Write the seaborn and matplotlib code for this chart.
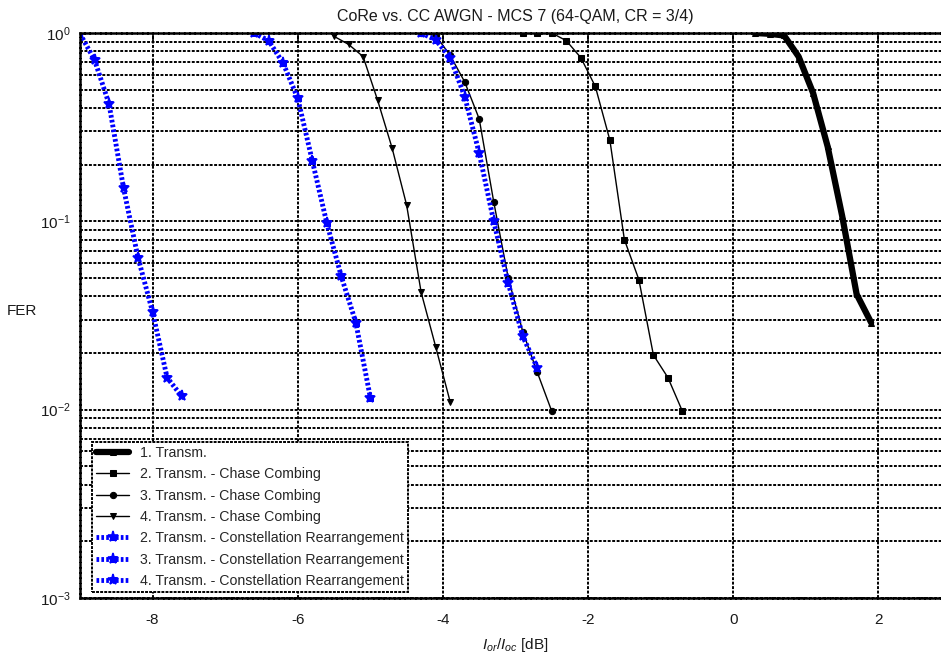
import numpy as np
import pandas as pd
import matplotlib
matplotlib.use("Agg")
import matplotlib.pyplot as plt
import seaborn as sns
from matplotlib.legend_handler import HandlerTuple
from matplotlib.ticker import LogLocator, NullLocator, FixedLocator

# ---- data ----
t1_x = [0.3, 0.5, 0.7, 0.9, 1.1, 1.3, 1.5, 1.7, 1.9]
t1_y = [1.0, 0.99, 0.97, 0.75, 0.48, 0.25, 0.107, 0.041, 0.029]

cc2_x = [-2.9, -2.7, -2.5, -2.3, -2.1, -1.9, -1.7, -1.5, -1.3, -1.1, -0.9, -0.7]
cc2_y = [1.0, 1.0, 1.0, 0.91, 0.74, 0.52, 0.27, 0.080, 0.049, 0.0195, 0.0148, 0.0098]

cc3_x = [-4.3, -4.1, -3.9, -3.7, -3.5, -3.3, -3.1, -2.9, -2.7, -2.5]
cc3_y = [1.0, 0.97, 0.76, 0.55, 0.35, 0.127, 0.050, 0.026, 0.0158, 0.0098]

cc4_x = [-5.5, -5.3, -5.1, -4.9, -4.7, -4.5, -4.3, -4.1, -3.9]
cc4_y = [0.96, 0.87, 0.75, 0.44, 0.245, 0.122, 0.042, 0.0216, 0.011]

cr2_x = [-4.3, -4.1, -3.9, -3.7, -3.5, -3.3, -3.1, -2.9, -2.7]
cr2_y = [1.0, 0.92, 0.74, 0.46, 0.23, 0.10, 0.047, 0.0245, 0.0167]

cr3_x = [-6.6, -6.4, -6.2, -6.0, -5.8, -5.6, -5.4, -5.2, -5.0]
cr3_y = [1.0, 0.91, 0.69, 0.45, 0.21, 0.098, 0.051, 0.029, 0.0116]

cr4_x = [-9.0, -8.8, -8.6, -8.4, -8.2, -8.0, -7.8, -7.6]
cr4_y = [0.99, 0.72, 0.42, 0.15, 0.064, 0.033, 0.0148, 0.0118]

labels = ["1. Transm.",
          "2. Transm. - Chase Combing",
          "3. Transm. - Chase Combing",
          "4. Transm. - Chase Combing",
          "2. Transm. - Constellation Rearrangement",
          "3. Transm. - Constellation Rearrangement",
          "4. Transm. - Constellation Rearrangement"]

title = "CoRe vs. CC AWGN - MCS 7 (64-QAM, CR = 3/4)"
xticks = [-8, -6, -4, -2, 0, 2]

# ---- style ----
sns.set_style("white")
plt.rcParams['font.family'] = ['Liberation Sans', 'DejaVu Sans']
plt.rcParams['mathtext.fontset'] = 'custom'
plt.rcParams['mathtext.rm'] = 'Liberation Sans'
plt.rcParams['mathtext.it'] = 'Liberation Sans:italic'
plt.rcParams['font.size'] = 11
plt.rcParams['axes.unicode_minus'] = False

fig = plt.figure(figsize=(9.41, 6.63), dpi=100)
ax = fig.add_axes([80/941, 1-598/663, 871/941, 565/663])

blue = '#0000FF'
dot_ls = (0, (0.55, 0.45))

def draw(x, y, **kw):
    sns.lineplot(x=x, y=y, ax=ax, legend=False, sort=False, estimator=None, **kw)
    return ax.lines[-1]

h1 = draw(t1_x, t1_y, color='black', lw=4.5, marker='^', ms=4.5, mec='black', mfc='black')
h2 = draw(cc2_x, cc2_y, color='black', lw=1.0, marker='s', ms=4.5, mec='black', mfc='black')
h3 = draw(cc3_x, cc3_y, color='black', lw=1.0, marker='o', ms=4.5, mec='black', mfc='black')
h4 = draw(cc4_x, cc4_y, color='black', lw=1.0, marker='v', ms=4.5, mec='black', mfc='black')

crs = []
for xs, ys, m in [(cr2_x, cr2_y, '^'), (cr3_x, cr3_y, 's'), (cr4_x, cr4_y, 'v')]:
    ln = draw(xs, ys, color=blue, lw=3.5, ls=dot_ls, marker='*', ms=8, mec=blue, mfc=blue,
              mew=1.2)
    mk = draw(xs, ys, color=blue, ls='none', marker=m, ms=4.5, mec=blue, mfc=blue)
    crs.append((ln, mk))

ax.set_yscale('log')
ax.set_xlim(-9, 3)
ax.set_ylim(1e-3, 1)
ax.xaxis.set_major_locator(FixedLocator(xticks))
ax.xaxis.set_minor_locator(NullLocator())
ax.yaxis.set_major_locator(LogLocator(base=10, numticks=10))
ax.yaxis.set_minor_locator(LogLocator(base=10, subs=np.arange(2, 10), numticks=20))

grid_kw = dict(color='black', linestyle=(0, (1.5, 0.8)), linewidth=1.4)
ax.grid(which='major', axis='both', **grid_kw)
ax.grid(which='minor', axis='y', **grid_kw)
ax.set_axisbelow(True)

for s in ax.spines.values():
    s.set_color('black')
    s.set_linewidth(1.8)
    s.set_linestyle((0, (1.5, 0.6)))

ax.tick_params(axis='both', which='both', direction='in', top=True, right=True,
               color='black', labelsize=11, labelcolor='#1a1a1a')
ax.tick_params(axis='both', which='major', length=6, width=1.2)
ax.tick_params(axis='y', which='minor', length=3, width=1.2)
ax.tick_params(axis='x', which='major', pad=11)
ax.tick_params(axis='y', which='major', pad=7)

ax.set_title(title, fontsize=11.5, pad=9, color='#1a1a1a')
ax.set_xlabel(r'$I_{or}/I_{oc}$ [dB]', fontsize=11, labelpad=6, color='#1a1a1a')
ax.set_ylabel('FER', rotation=0, fontsize=11, color='#1a1a1a')
ax.yaxis.set_label_coords(-0.067, 0.496)

handles = [(h1,), (h2,), (h3,), (h4,)] + crs
leg = ax.legend(handles=handles, labels=labels, loc='lower left',
                bbox_to_anchor=(0.014, 0.01), fontsize=10.2, frameon=True,
                fancybox=False, framealpha=1, edgecolor='black', borderpad=0.3,
                labelspacing=0.52, handlelength=2.3, handletextpad=0.8,
                borderaxespad=0.0,
                handler_map={tuple: HandlerTuple(ndivide=1, pad=0)})
fr = leg.get_frame()
fr.set_linewidth(1.4)
fr.set_linestyle((0, (1.5, 0.6)))

fig.savefig('out.png', dpi=100)
